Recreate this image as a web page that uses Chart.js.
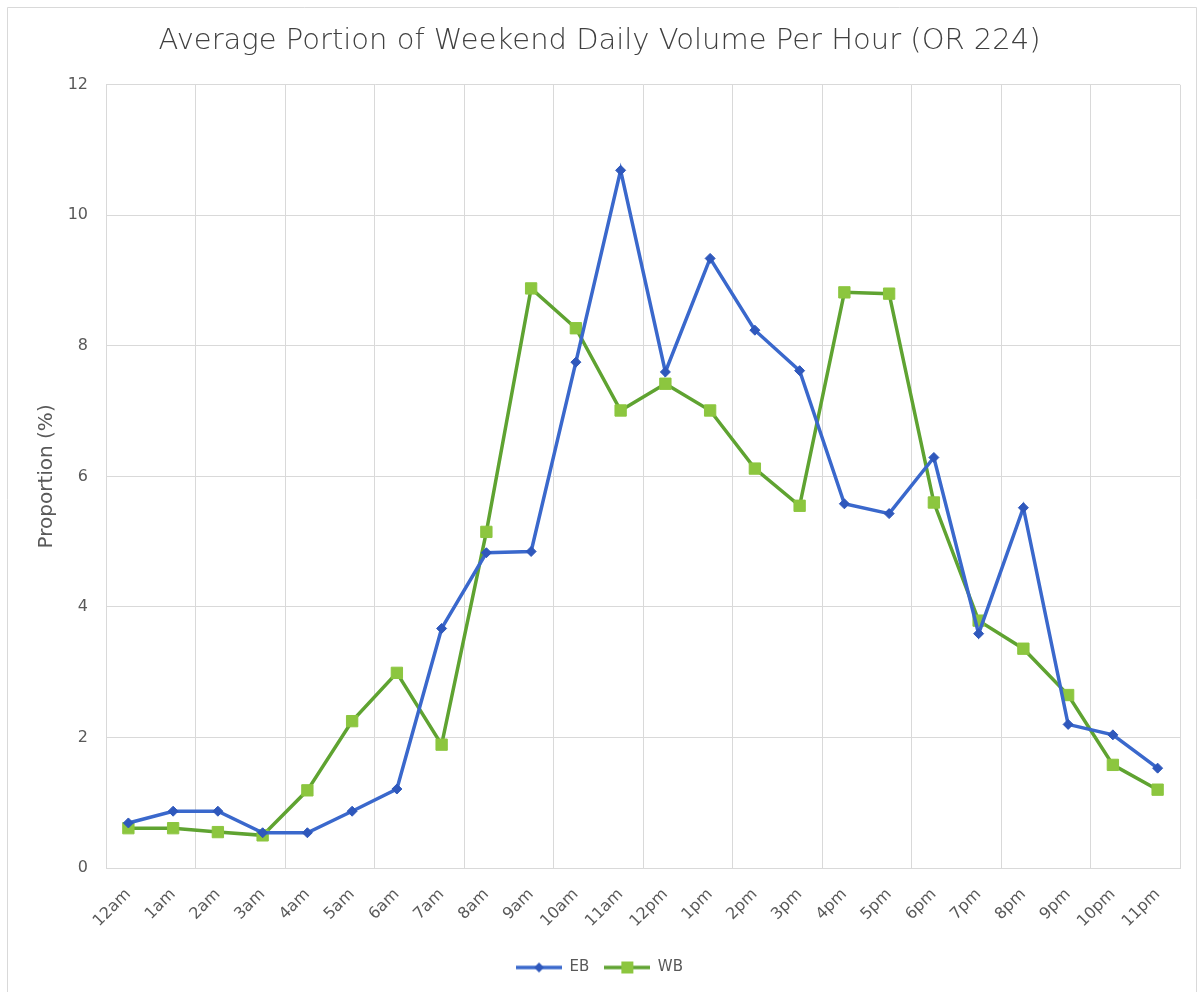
<!DOCTYPE html>
<html>
<head>
<meta charset="utf-8">
<style>
  html, body { margin: 0; padding: 0; background: #fff; }
  canvas { display: block; }
</style>
<script src="https://cdn.jsdelivr.net/npm/chart.js@4.4.0/dist/chart.umd.min.js"></script>
</head>
<body>
<canvas id="chart" width="1199" height="992"></canvas>
<script>
const hours = ['12am', '1am', '2am', '3am', '4am', '5am', '6am', '7am', '8am', '9am', '10am', '11am',
	'12pm', '1pm', '2pm', '3pm', '4pm', '5pm', '6pm', '7pm', '8pm', '9pm', '10pm', '11pm'];

const eb = [0.69, 0.87, 0.87, 0.54, 0.54, 0.87, 1.21, 3.67, 4.83, 4.85, 7.75, 10.69,
	7.6, 9.34, 8.24, 7.62, 5.58, 5.43, 6.29, 3.59, 5.52, 2.2, 2.04, 1.53];

const wb = [0.61, 0.61, 0.55, 0.5, 1.19, 2.25, 2.99, 1.89, 5.15, 8.88, 8.27, 7.01,
	7.42, 7.01, 6.12, 5.55, 8.82, 8.8, 5.6, 3.79, 3.36, 2.65, 1.58, 1.2];

const yTicks = [0, 2, 4, 6, 8, 10, 12];

const FONT = "'DejaVu Sans', sans-serif";
const TEXT = '#595959';
const GRID = '#D9D9D9';
const BLUE = '#3A68CC';
const BLUE_DARK = '#2F58BC';
const GREEN = '#5FA331';
const GREEN_LIGHT = '#8CC63F';

// line + marker swatch for the legend
const makeSwatch = (line, fill, shape) => {
	const c = document.createElement('canvas');
	c.width = 46;
	c.height = 14;
	const ctx = c.getContext('2d');
	ctx.strokeStyle = line;
	ctx.lineWidth = 3.5;
	ctx.beginPath();
	ctx.moveTo(0, 7);
	ctx.lineTo(46, 7);
	ctx.stroke();
	ctx.fillStyle = fill;
	ctx.beginPath();
	if (shape === 'diamond') {
		ctx.moveTo(23, 2);
		ctx.lineTo(28, 7);
		ctx.lineTo(23, 12);
		ctx.lineTo(18, 7);
	} else {
		ctx.rect(17, 1, 12, 12);
	}
	ctx.closePath();
	ctx.fill();
	return c;
};

const swatches = [makeSwatch(BLUE, BLUE_DARK, 'diamond'), makeSwatch(GREEN, GREEN_LIGHT, 'square')];

const framePlugin = {
	id: 'frame',
	beforeDraw(chart) {
		const {ctx, width, height} = chart;
		ctx.save();
		ctx.fillStyle = '#fff';
		ctx.fillRect(0, 0, width, height);
		ctx.strokeStyle = GRID;
		ctx.lineWidth = 1;
		ctx.beginPath();
		ctx.moveTo(7.5, height);
		ctx.lineTo(7.5, 7.5);
		ctx.lineTo(1196.5, 7.5);
		ctx.lineTo(1196.5, height);
		ctx.stroke();
		ctx.restore();
	}
};

new Chart(document.getElementById('chart'), {
	type: 'line',
	data: {
		labels: hours,
		datasets: [{
			label: 'EB',
			data: eb,
			borderColor: BLUE,
			backgroundColor: BLUE_DARK,
			pointBackgroundColor: BLUE_DARK,
			pointBorderColor: BLUE_DARK,
			borderWidth: 3.5,
			pointStyle: 'rectRot',
			pointRadius: 5,
			pointBorderWidth: 1,
			tension: 0
		}, {
			label: 'WB',
			data: wb,
			borderColor: GREEN,
			backgroundColor: GREEN_LIGHT,
			pointBackgroundColor: GREEN_LIGHT,
			pointBorderColor: GREEN_LIGHT,
			borderWidth: 3.5,
			pointStyle: 'rect',
			pointRadius: 8,
			pointBorderWidth: 1,
			tension: 0
		}]
	},
	options: {
		responsive: false,
		animation: false,
		layout: {
			padding: {left: 0, right: 0, top: 0, bottom: 7}
		},
		plugins: {
			title: {
				display: true,
				text: 'Average Portion of Weekend Daily Volume Per Hour (OR 224)',
				color: '#404040',
				font: {family: FONT, size: 29, weight: 200},
				padding: {top: 24, bottom: 26}
			},
			legend: {
				position: 'bottom',
				labels: {
					usePointStyle: true,
					pointStyleWidth: 46,
					color: TEXT,
					font: {family: FONT, size: 15},
					padding: 15,
					generateLabels(chart) {
						const items = Chart.defaults.plugins.legend.labels.generateLabels(chart);
						items.forEach((item, i) => { item.pointStyle = swatches[i]; });
						return items;
					}
				}
			},
			tooltip: {enabled: false}
		},
		scales: {
			x: {
				offset: true,
				grid: {
					offset: true,
					drawTicks: false,
					color: ctx => (ctx.index === undefined || ctx.index % 2 === 0) ? GRID : 'rgba(0,0,0,0)'
				},
				border: {color: GRID},
				ticks: {
					color: TEXT,
					font: {family: FONT, size: 16},
					minRotation: 45,
					maxRotation: 45,
					padding: 17,
					autoSkip: false
				},
				afterFit(scale) { scale.height = 77; }
			},
			y: {
				min: 0,
				max: 12,
				afterBuildTicks(scale) { scale.ticks = yTicks.map(v => ({value: v})); },
				grid: {color: GRID, drawTicks: false},
				border: {color: GRID},
				ticks: {
					color: TEXT,
					font: {family: FONT, size: 16},
					padding: 18
				},
				title: {
					display: true,
					text: 'Proportion (%)',
					color: TEXT,
					font: {family: FONT, size: 20},
					padding: {top: 35, bottom: 0}
				},
				afterFit(scale) { scale.width = 106; }
			},
			// empty right-hand strip, keeps title and legend centred on the page
			spacer: {
				type: 'linear',
				position: 'right',
				display: true,
				grid: {display: false},
				border: {display: false},
				ticks: {display: false},
				afterFit(scale) { scale.width = 19; }
			}
		}
	},
	plugins: [framePlugin]
});
</script>
</body>
</html>
